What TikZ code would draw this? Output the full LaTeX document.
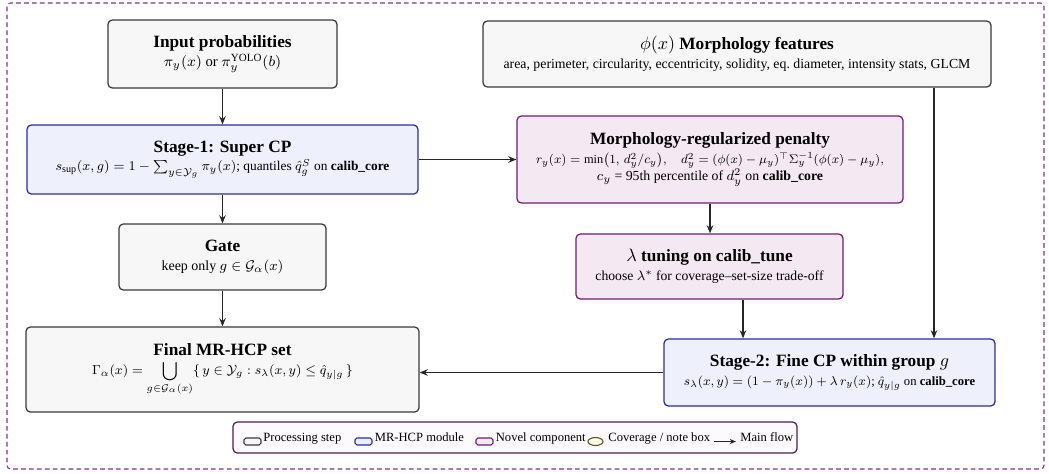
\documentclass[tikz,border=0pt]{standalone}
\usepackage{amsmath,amssymb}
\usepackage{fontspec}
\setmainfont{Liberation Serif}
\usetikzlibrary{arrows.meta,calc,shapes.geometric}

\definecolor{procfill}{HTML}{F7F7F7}
\definecolor{procline}{HTML}{3A3A3A}
\definecolor{modfill}{HTML}{EEF0FC}
\definecolor{modline}{HTML}{2C2CA0}
\definecolor{novfill}{HTML}{F4E8F3}
\definecolor{novline}{HTML}{6B1F6E}
\definecolor{legline}{HTML}{4A1F4A}
\definecolor{legfill}{HTML}{FCFAFC}
\definecolor{frameline}{HTML}{7B3589}
\definecolor{covfill}{HTML}{FBFBE4}
\definecolor{covline}{HTML}{55552E}

\newcommand\pxu{0.556pt}
% box heading and a detail line set at a given horizontal scale
\newcommand\hd[1]{{\fontsize{9.6}{11.5}\selectfont\bfseries #1}}
\newcommand\subln[2][0.96]{\scalebox{#1}{#2}}

\tikzset{
  box/.style={rounded corners=2.4pt, line width=0.7pt, align=center,
              inner sep=2pt, font=\footnotesize},
  proc/.style={box, draw=procline, fill=procfill},
  mod/.style={box, draw=modline, fill=modfill},
  novel/.style={box, draw=novline, fill=novfill},
  flow/.style={-{Stealth[length=4.5pt,width=3.6pt]}, line width=0.75pt, draw=black!85},
  legtext/.style={anchor=base west, font=\scriptsize, inner sep=0pt},
  legicon/.style={rounded corners=1pt, line width=0.6pt, minimum width=17*\pxu,
                  minimum height=7*\pxu, inner sep=0pt}
}

\begin{document}
\begin{tikzpicture}[x=0.556pt,y=-0.556pt]
\useasboundingbox (0,0) rectangle (1049,473);

% dashed outer frame
\draw[frameline, line width=0.6pt, dash pattern=on 2.6pt off 1.8pt, rounded corners=2pt]
  (7,3) rectangle (1044,469);

% left column
\node[proc, minimum width=229*\pxu, minimum height=68*\pxu] (inp) at (222.5,54)
  {\hd{Input probabilities}\\[1pt]
   \subln[1.02]{$\pi_y(x)$ or $\pi_y^{\text{YOLO}}(b)$}};

\node[mod, minimum width=391*\pxu, minimum height=69*\pxu] (s1) at (222.5,159.5)
  {\hd{Stage-1: Super CP}\\[1pt]
   \subln[0.93]{$s_{\text{sup}}(x,g)=1-\sum_{y\in\mathcal{Y}_g}\pi_y(x)$; quantiles $\hat q_g^{S}$ on \textbf{calib\_core}}};

\node[proc, minimum width=207*\pxu, minimum height=66*\pxu] (gate) at (222.5,257)
  {\hd{Gate}\\[1pt]
   \subln[0.97]{keep only $g\in\mathcal{G}_\alpha(x)$}};

\node[proc, minimum width=393*\pxu, minimum height=85*\pxu] (fin) at (222.5,369.5)
  {\hd{Final MR-HCP set}\\[1pt]
   \subln[0.91]{$\displaystyle \Gamma_\alpha(x)=\bigcup_{g\in\mathcal{G}_\alpha(x)}\{\,y\in\mathcal{Y}_g : s_\lambda(x,y)\le\hat q_{y|g}\,\}$}};

% right column
\node[proc, minimum width=508*\pxu, minimum height=66*\pxu] (feat) at (737,54)
  {\hd{\mdseries$\phi(x)$ \bfseries Morphology features}\\[1pt]
   \subln{area, perimeter, circularity, eccentricity, solidity, eq.\ diameter, intensity stats, GLCM}};

\node[novel, minimum width=386*\pxu, minimum height=87*\pxu] (pen) at (710,159.5)
  {\hd{Morphology-regularized penalty}\\[1pt]
   \subln[0.86]{$r_y(x)=\min\bigl(1,\,d_y^2/c_y\bigr),\quad d_y^2=(\phi(x)-\mu_y)^{\top}\Sigma_y^{-1}(\phi(x)-\mu_y),$}\\
   \subln{$c_y$ = 95th percentile of $d_y^2$ on \textbf{calib\_core}}};

\node[novel, minimum width=267*\pxu, minimum height=65*\pxu] (lam) at (709.5,266.5)
  {\hd{\mdseries$\lambda$ \bfseries tuning on calib\_tune}\\[1pt]
   \subln[0.95]{choose $\lambda^{*}$ for coverage--set-size trade-off}};

\node[mod, minimum width=331*\pxu, minimum height=67*\pxu] (s2) at (829.5,372.5)
  {\hd{Stage-2: Fine CP within group $g$}\\[1pt]
   \subln[0.88]{$s_\lambda(x,y)=(1-\pi_y(x))+\lambda\, r_y(x)$; $\hat q_{y|g}$ on \textbf{calib\_core}}};

% connectors
\draw[flow] (inp) -- (s1);
\draw[flow] (s1) -- (gate);
\draw[flow] (gate) -- (fin);
\draw[flow] (s1) -- (pen);
\draw[flow] (pen.south) -- (pen.south |- lam.north);
\draw[flow] ([xshift=33.5*\pxu]lam.south) coordinate (lamout) -- (lamout |- s2.north);
\draw[flow] ([xshift=197*\pxu]feat.south) coordinate (featout) -- (featout |- s2.north);
\draw[flow] (s2.west) -- (s2.west -| fin.east);

% legend
\node[draw=legline, fill=legfill, line width=0.7pt, rounded corners=2.4pt,
      minimum width=564*\pxu, minimum height=31*\pxu] (leg) at (515,437.5) {};

\node[legicon, draw=procline, fill=procfill] (ip) at (252.5,441.5) {};
\node[legtext] (tp) at (263,441) {Processing step};
\node[legicon, draw=modline, fill=modfill] (im) at (363.5,441.5) {};
\node[legtext] (tm) at (374.5,441) {MR-HCP module};
\node[legicon, draw=novline, fill=novfill] (in) at (484.5,441.5) {};
\node[legtext] (tn) at (495.5,441) {Novel component};
\node[ellipse, draw=covline, fill=covfill, line width=0.6pt, inner sep=0pt,
      minimum width=15*\pxu, minimum height=8*\pxu] (ic) at (595.5,441.5) {};
\node[legtext] (tc) at (608,441) {Coverage / note box};
\coordinate (fa) at (714,441.5);
\coordinate (fb) at (736,441.5);
\draw[flow, line width=0.6pt, -{Stealth[length=3.5pt,width=2.8pt]}] (fa) -- (fb);
\node[legtext] (tf) at (740,441) {Main flow};
\end{tikzpicture}
\end{document}
